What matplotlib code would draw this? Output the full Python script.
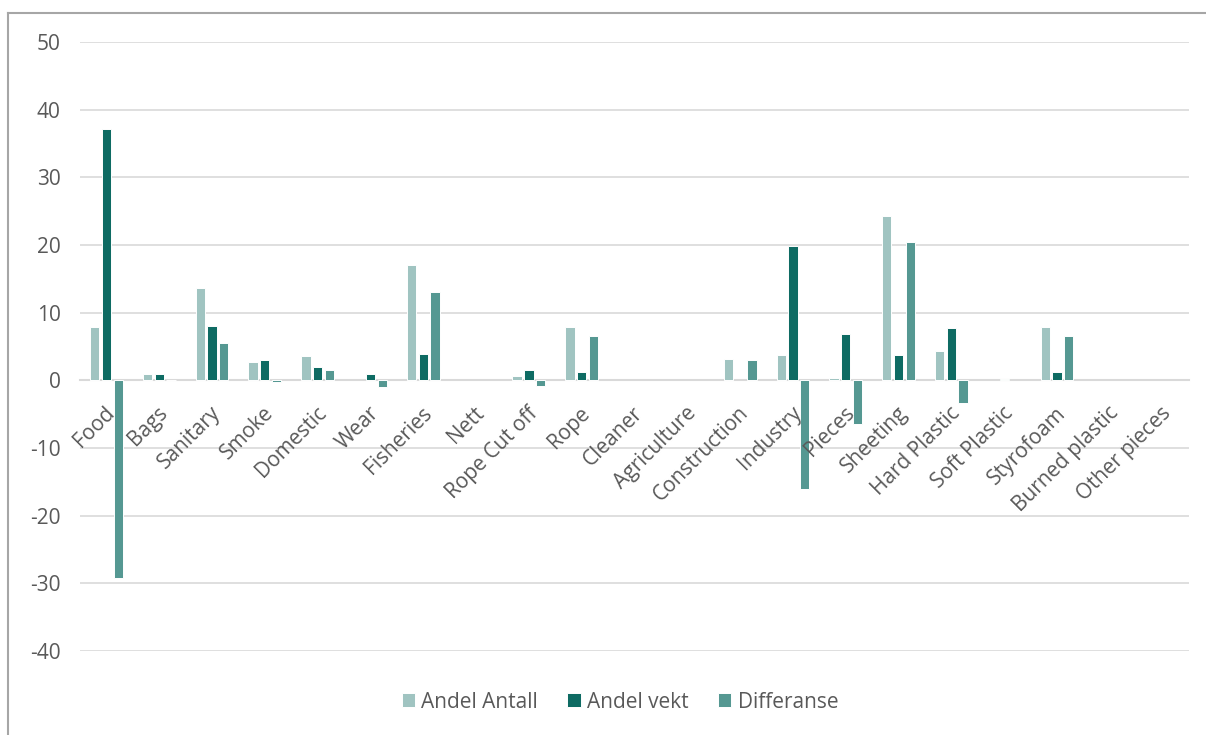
import numpy as np
import matplotlib.pyplot as plt
from matplotlib.lines import Line2D
from matplotlib.transforms import ScaledTranslation

categories = ['Food', 'Bags', 'Sanitary', 'Smoke', 'Domestic', 'Wear', 'Fisheries', 'Nett',
              'Rope Cut off', 'Rope', 'Cleaner', 'Agriculture', 'Construction', 'Industry',
              'Pieces', 'Sheeting', 'Hard Plastic', 'Soft Plastic', 'Styrofoam',
              'Burned plastic', 'Other pieces']
andel_antall = [7.9, 1.0, 13.6, 2.7, 3.6, 0.0, 17.0, 0.0, 0.6, 7.9, 0.0, 0.0, 3.1, 3.8,
                0.4, 24.3, 4.4, 0.0, 7.9, 0.0, 0.0]
andel_vekt = [37.1, 0.9, 8.1, 3.0, 2.0, 1.0, 3.9, 0.0, 1.5, 1.3, 0.0, 0.0, 0.0, 19.9,
              6.8, 3.8, 7.7, 0.15, 1.3, 0.0, 0.0]
differanse = [-29.2, 0.1, 5.5, -0.3, 1.5, -1.0, 13.1, 0.0, -0.9, 6.6, 0.0, 0.0, 3.0, -16.1,
              -6.4, 20.5, -3.4, 0.0, 6.6, 0.0, 0.0]

plt.rcParams['font.family'] = ['Open Sans', 'DejaVu Sans']
plt.rcParams['axes.unicode_minus'] = False

fig = plt.figure(figsize=(12.06, 7.35), dpi=100)
ax = fig.add_axes([80 / 1206, 1 - 651 / 735, 1109 / 1206, 609 / 735])

x = np.arange(len(categories))
w = 0.176
step = 0.223


def nz(vals):
    # empty cells are left out instead of drawn as flat bars
    v = np.array(vals, dtype=float)
    v[v == 0] = np.nan
    return v


yticks = list(range(-40, 51, 10))
# gridlines drawn by hand so the axis labels can sit above the bars
for t in yticks:
    if t != 0:
        ax.axhline(t, color='#d9d9d9', linewidth=1.2, zorder=0)

ax.bar(x - step, nz(andel_antall), w, color='#a0c4c1', edgecolor='white', linewidth=0.7, label='Andel Antall', zorder=1)
ax.bar(x, nz(andel_vekt), w, color='#0e6b63', edgecolor='white', linewidth=0.7, label='Andel vekt', zorder=1)
ax.bar(x + step, nz(differanse), w, color='#559892', edgecolor='white', linewidth=0.7, label='Differanse', zorder=1)

ax.set_xlim(-0.5, len(categories) - 0.5)
ax.set_ylim(-40, 50)
ax.set_yticks(yticks)

for s in ['top', 'right', 'left']:
    ax.spines[s].set_visible(False)
ax.spines['bottom'].set_position(('data', 0))
ax.spines['bottom'].set_color('#d9d9d9')
ax.spines['bottom'].set_linewidth(1.5)
ax.spines['bottom'].set_zorder(0.5)

ax.set_xticks(x)
ax.set_xticklabels(categories, rotation=45, ha='right', rotation_mode='anchor')
ax.tick_params(axis='x', length=0, pad=16, labelsize=15, labelcolor='#595959')
ax.tick_params(axis='y', length=0, pad=14, labelsize=15, labelcolor='#595959')
shift = ScaledTranslation(-2 / 100, 0, fig.dpi_scale_trans)
for lbl in ax.get_xticklabels():
    lbl.set_transform(lbl.get_transform() + shift)

ax.legend(loc='center', bbox_to_anchor=(620 / 1206, 1 - 702 / 735), bbox_transform=fig.transFigure,
          ncol=3, frameon=False, fontsize=15, handlelength=0.65, handleheight=0.65,
          handletextpad=0.3, columnspacing=1.4, labelcolor='#595959')

# outer chart border (left and top edges)
fig.add_artist(Line2D([8 / 1206, 8 / 1206], [0, 1 - 13 / 735], color='#a6a6a6', linewidth=1.5))
fig.add_artist(Line2D([8 / 1206, 1], [1 - 13 / 735, 1 - 13 / 735], color='#a6a6a6', linewidth=1.5))

fig.savefig('out.png', dpi=100)
